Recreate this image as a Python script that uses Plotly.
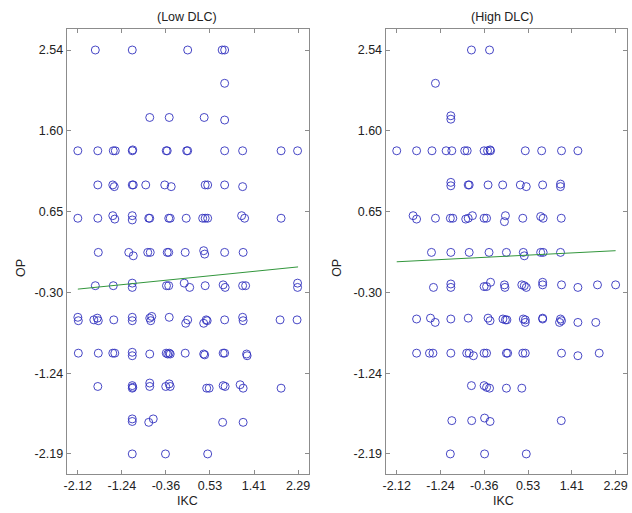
import plotly.graph_objects as go

# ---------------- data ----------------
x_tick_vals = [-2.12, -1.238, -0.356, 0.526, 1.408, 2.29]
x_tick_text = ["-2.12", "-1.24", "-0.36", "0.53", "1.41", "2.29"]
y_tick_vals = [2.54, 1.594, 0.648, -0.298, -1.244, -2.19]
y_tick_text = ["2.54", "1.60", "0.65", "-0.30", "-1.24", "-2.19"]

low_x = [
    -1.77, -1.03, 0.08, 0.77, 0.82,
    0.82,
    -0.68, -0.29, 0.41, 0.82,
    -2.12, -1.72, -1.41, -1.37, -1.03, -1.02, -0.35, -0.33, 0.06, 0.08, 0.82, 1.18, 1.95, 2.28,
    -1.72, -1.42, -1.39, -1.03, -1.01, -0.76, -0.38, -0.25, 0.43, 0.48, 0.82, 1.18,
    -2.12, -1.72, -1.42, -1.38, -1.03, -1.03, -0.70, -0.68, -0.30, -0.27, 0.05, 0.38, 0.43, 0.48, 1.16, 1.22, 1.95,
    -1.71, -1.10, -1.01, -0.72, -0.67, -0.33, -0.30, 0.03, 0.40, 0.42, 0.82, 1.19,
    -1.77, -1.41, -1.03, -1.03, -0.345, -0.30, 0.01, 0.12, 0.43, 0.79, 0.83, 1.18, 1.24, 2.28, 2.28,
    -2.12, -2.11, -1.80, -1.73, -1.71, -1.40, -1.03, -1.03, -0.68, -0.64, -0.66, -0.29, 0.04, 0.08, 0.40, 0.45, 0.47, 0.82, 1.18, 1.19, 1.93, 2.27,
    -2.11, -1.71, -1.42, -1.38, -1.03, -1.03, -0.68, -0.35, -0.32, -0.29, -0.27, 0.03, 0.40, 0.42, 0.79, 0.82, 1.26, 1.27,
    -1.72, -1.03, -1.03, -1.02, -0.68, -0.68, -0.36, -0.29, -0.27, 0.46, 0.51, 0.79, 0.83, 1.13, 1.19, 1.95,
    -1.03, -1.03, -0.70, -0.61, 0.78, 1.19,
    -1.03, -0.365, 0.48,
]
low_y = [
    2.54, 2.54, 2.54, 2.54, 2.54,
    2.15,
    1.75, 1.75, 1.75, 1.72,
    1.36, 1.36, 1.36, 1.36, 1.36, 1.37, 1.36, 1.36, 1.36, 1.36, 1.36, 1.36, 1.36, 1.36,
    0.96, 0.96, 0.94, 0.96, 0.96, 0.96, 0.96, 0.94, 0.96, 0.96, 0.96, 0.94,
    0.57, 0.57, 0.60, 0.56, 0.60, 0.55, 0.57, 0.57, 0.57, 0.57, 0.57, 0.57, 0.57, 0.57, 0.60, 0.57, 0.57,
    0.17, 0.17, 0.13, 0.17, 0.17, 0.17, 0.17, 0.17, 0.19, 0.15, 0.17, 0.17,
    -0.22, -0.22, -0.19, -0.24, -0.22, -0.22, -0.19, -0.24, -0.22, -0.21, -0.24, -0.22, -0.22, -0.19, -0.24,
    -0.59, -0.63, -0.62, -0.60, -0.63, -0.62, -0.59, -0.63, -0.60, -0.58, -0.63, -0.59, -0.66, -0.62, -0.66, -0.62, -0.63, -0.62, -0.59, -0.63, -0.62, -0.62,
    -1.01, -1.01, -1.01, -1.01, -1.00, -1.04, -1.02, -1.01, -1.02, -1.01, -1.02, -1.01, -1.02, -1.03, -1.01, -1.01, -1.02, -1.04,
    -1.40, -1.39, -1.42, -1.41, -1.36, -1.40, -1.40, -1.37, -1.40, -1.42, -1.42, -1.39, -1.40, -1.38, -1.42, -1.42,
    -1.78, -1.81, -1.82, -1.78, -1.82, -1.82,
    -2.19, -2.19, -2.19,
]

high_x = [
    -0.615, -0.25,
    -1.34,
    -1.03, -1.03,
    -2.12, -1.72, -1.41, -1.125, -1.01, -0.75, -0.70, -0.36, -0.29, -0.24, -0.23, 0.47, 0.80, 1.20, 1.53,
    -1.03, -1.03, -0.68, -0.66, -0.28, 0.015, 0.37, 0.49, 0.82, 1.18, 1.18,
    -1.79, -1.72, -1.34, -1.04, -0.99, -0.73, -0.68, -0.595, -0.36, -0.31, 0.07, 0.05, 0.42, 0.78, 0.83, 1.195,
    -1.42, -1.03, -0.66, -0.26, 0.09, 0.43, 0.45, 0.78, 0.83, 1.18,
    -1.38, -1.03, -1.03, -0.36, -0.31, -0.23, 0.05, 0.06, 0.40, 0.45, 0.49, 0.82, 0.82, 1.20, 1.53, 1.925, 2.29,
    -1.72, -1.44, -1.345, -1.03, -0.68, -0.28, -0.24, 0.02, 0.07, 0.10, 0.43, 0.47, 0.47, 0.82, 0.82, 1.16, 1.18, 1.20, 1.53, 1.89,
    -1.72, -1.46, -1.39, -1.03, -0.71, -0.66, -0.575, -0.36, -0.31, 0.09, 0.115, 0.42, 0.47, 1.20, 1.53, 1.96,
    -0.615, -0.36, -0.31, -0.25, 0.09, 0.40,
    -1.01, -0.61, -0.35, -0.24, 1.195,
    -1.04, -0.35, 0.49,
]
high_y = [
    2.54, 2.54,
    2.15,
    1.77, 1.73,
    1.36, 1.36, 1.36, 1.36, 1.36, 1.36, 1.36, 1.36, 1.36, 1.37, 1.36, 1.36, 1.36, 1.36, 1.36,
    0.99, 0.95, 0.96, 0.96, 0.96, 0.96, 0.96, 0.94, 0.96, 0.97, 0.94,
    0.60, 0.56, 0.57, 0.57, 0.57, 0.56, 0.57, 0.60, 0.57, 0.57, 0.60, 0.53, 0.57, 0.59, 0.57, 0.57,
    0.17, 0.17, 0.17, 0.17, 0.17, 0.17, 0.13, 0.17, 0.17, 0.17,
    -0.24, -0.20, -0.24, -0.23, -0.23, -0.18, -0.21, -0.24, -0.21, -0.22, -0.24, -0.18, -0.21, -0.21, -0.24, -0.21, -0.21,
    -0.61, -0.60, -0.65, -0.61, -0.60, -0.60, -0.63, -0.61, -0.62, -0.62, -0.61, -0.62, -0.65, -0.60, -0.61, -0.65, -0.61, -0.63, -0.65, -0.65,
    -1.01, -1.01, -1.01, -1.01, -1.01, -1.01, -1.04, -1.01, -1.01, -1.01, -1.01, -1.01, -1.01, -1.01, -1.04, -1.01,
    -1.39, -1.39, -1.41, -1.42, -1.42, -1.42,
    -1.80, -1.80, -1.77, -1.81, -1.80,
    -2.19, -2.19, -2.19,
]

fit_x = [-2.12, 2.29]
low_fit_y = [-0.26, 0.00]
high_fit_y = [0.06, 0.19]

titles = ["(Low DLC)", "(High DLC)"]
x_label = "IKC"
y_label = "OP"

# ---------------- figure ----------------
W, H = 632, 513
marker = dict(symbol="circle-open", size=8, color="rgb(50,50,190)", line=dict(width=0.9))
line_style = dict(color="rgb(50,150,60)", width=1)

fig = go.Figure()
fig.add_trace(go.Scatter(x=low_x, y=low_y, mode="markers", marker=marker, xaxis="x", yaxis="y", showlegend=False))
fig.add_trace(go.Scatter(x=fit_x, y=low_fit_y, mode="lines", line=line_style, xaxis="x", yaxis="y", showlegend=False))
fig.add_trace(go.Scatter(x=high_x, y=high_y, mode="markers", marker=marker, xaxis="x2", yaxis="y2", showlegend=False))
fig.add_trace(go.Scatter(x=fit_x, y=high_fit_y, mode="lines", line=line_style, xaxis="x2", yaxis="y2", showlegend=False))

font = dict(family="Liberation Sans, Arial, sans-serif", size=12.5, color="#222")
ax_common = dict(showgrid=False, zeroline=False, showline=True, linecolor="#8c8c8c", linewidth=1,
                 mirror="ticks", ticks="inside", ticklen=4, tickcolor="#8c8c8c", tickfont=font)
xr = [-2.345, 2.51]
yr = [-2.425, 2.786]


def px(v):
    return v / W


def py(v):
    return 1 - v / H


ydom = [py(474), py(29)]

fig.update_layout(
    width=W, height=H, paper_bgcolor="white", plot_bgcolor="white",
    margin=dict(l=0, r=0, t=0, b=0), font=font, hovermode=False,
    xaxis=dict(domain=[px(64), px(308)], range=xr, tickvals=x_tick_vals, ticktext=x_tick_text, anchor="y", **ax_common),
    yaxis=dict(domain=ydom, range=yr, tickvals=y_tick_vals, ticktext=y_tick_text, anchor="x", **ax_common),
    xaxis2=dict(domain=[px(385), px(627.5)], range=xr, tickvals=x_tick_vals, ticktext=x_tick_text, anchor="y2", **ax_common),
    yaxis2=dict(domain=ydom, range=yr, tickvals=y_tick_vals, ticktext=y_tick_text, anchor="x2", **ax_common),
)

ann = []
for cx, t in zip([185, 503], titles):
    ann.append(dict(x=px(cx), y=py(17.5), xref="paper", yref="paper", text=t, showarrow=False, font=font,
                    xanchor="center", yanchor="middle"))
for cx in [186, 504]:
    ann.append(dict(x=px(cx), y=py(501), xref="paper", yref="paper", text=x_label, showarrow=False, font=font,
                    xanchor="center", yanchor="middle"))
for cx in [18, 336]:
    ann.append(dict(x=px(cx), y=py(268), xref="paper", yref="paper", text=y_label, showarrow=False, font=font,
                    textangle=-90, xanchor="center", yanchor="middle"))
fig.update_layout(annotations=ann)

fig.write_html(
    "out.html",
    config={"displayModeBar": False},
    post_script="document.body.style.margin='0px';document.body.style.overflow='hidden';",
)
